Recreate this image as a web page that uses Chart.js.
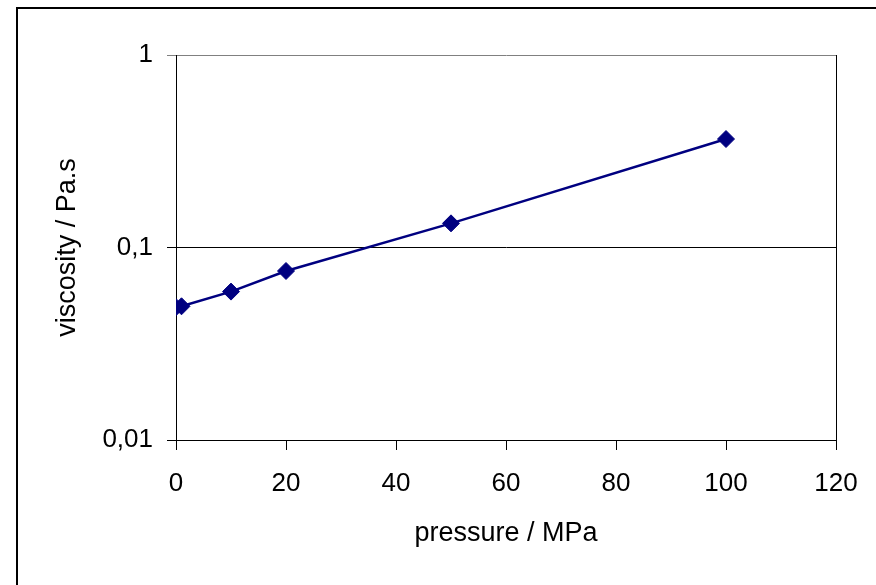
<!DOCTYPE html>
<html>
<head>
<meta charset="utf-8">
<script src="https://cdn.jsdelivr.net/npm/chart.js@4"></script>
<style>
  html, body { margin: 0; padding: 0; background: #fff; }
  canvas { display: block; }
</style>
</head>
<body>
<canvas id="viscChart" width="876" height="585"></canvas>
<script>
// data
const pressure = [0, 1, 10, 20, 50, 100];
const viscosity = [0.049, 0.0495, 0.059, 0.0755, 0.1335, 0.366];
const yTicks = [0.01, 0.1, 1];

const FONT = { family: "'Liberation Sans', Arial, sans-serif", size: 26 };
const TITLE_FONT = { family: "'Liberation Sans', Arial, sans-serif", size: 27 };

// outer frame (top + left edge of the pasted chart) and right border of the plot area
const framePlugin = {
    id: 'frame',
    beforeDraw(chart) {
        const ctx = chart.ctx;
        ctx.save();
        ctx.fillStyle = '#000';
        ctx.fillRect(16, 7, chart.width, 2);
        ctx.fillRect(16, 7, 2, chart.height);
        ctx.restore();
    },
    afterDraw(chart) {
        const a = chart.chartArea;
        const ctx = chart.ctx;
        ctx.save();
        ctx.strokeStyle = '#000';
        ctx.lineWidth = 1;
        ctx.beginPath();
        ctx.moveTo(a.right + 0.5, a.top);
        ctx.lineTo(a.right + 0.5, a.bottom);
        ctx.stroke();
        ctx.restore();
    }
};

new Chart(document.getElementById('viscChart'), {
    type: 'line',
    data: {
        datasets: [{
            data: pressure.map((p, i) => ({ x: p, y: viscosity[i] })),
            borderColor: '#000080',
            borderWidth: 2.5,
            backgroundColor: '#000080',
            pointStyle: 'rectRot',
            pointRadius: 8.5,
            pointBorderWidth: 1,
            pointBorderColor: '#000080',
            pointBackgroundColor: '#000080',
            tension: 0,
            fill: false
        }]
    },
    options: {
        responsive: false,
        animation: false,
        layout: { padding: { top: 55, right: 40, left: 0, bottom: 0 } },
        plugins: { legend: { display: false }, tooltip: { enabled: false } },
        scales: {
            x: {
                type: 'linear',
                min: 0,
                max: 120,
                ticks: { stepSize: 20, color: '#000', font: FONT, padding: 18 },
                grid: { drawOnChartArea: false, drawTicks: true, tickLength: 10, color: '#000' },
                border: { color: '#000', width: 1 },
                title: { display: true, text: 'pressure / MPa', color: '#000', font: TITLE_FONT, padding: { bottom: 35, top: 0 } },
                afterFit: (scale) => { scale.height = 145; }
            },
            y: {
                type: 'logarithmic',
                min: 0.01,
                max: 1,
                afterBuildTicks: (scale) => { scale.ticks = yTicks.map(v => ({ value: v })); },
                ticks: {
                    color: '#000',
                    font: FONT,
                    padding: 14,
                    callback: (v) => String(v).replace('.', ',')
                },
                grid: {
                    color: (ctx) => (ctx.tick && ctx.tick.value === 1 ? '#808080' : '#000'),
                    tickLength: 9
                },
                border: { color: '#000', width: 1 },
                title: { display: true, text: 'viscosity / Pa.s', color: '#000', font: TITLE_FONT, padding: { top: 51, bottom: 0 } },
                afterFit: (scale) => { scale.width = 176; }
            }
        }
    },
    plugins: [framePlugin]
});
</script>
</body>
</html>
